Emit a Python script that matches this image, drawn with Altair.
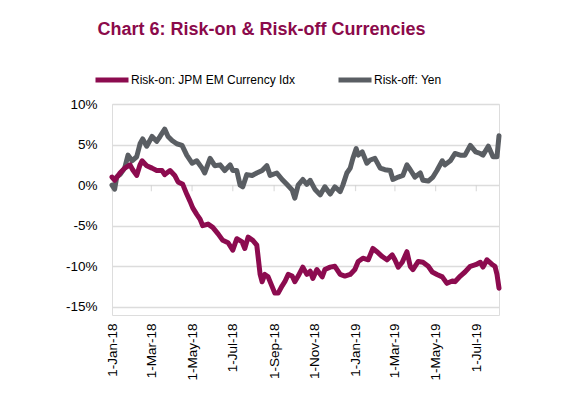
import altair as alt
import pandas as pd

series_names = ["Risk-on: JPM EM Currency Idx", "Risk-off: Yen"]
series_colors = ["#8C0B4F", "#5A5E63"]

em_dates = [
    "2018-01-01", "2018-01-05", "2018-01-13", "2018-01-20", "2018-01-28", "2018-02-01",
    "2018-02-07", "2018-02-12", "2018-02-15", "2018-02-22", "2018-03-02", "2018-03-09",
    "2018-03-17", "2018-03-21", "2018-03-29", "2018-04-05", "2018-04-10", "2018-04-17",
    "2018-04-23", "2018-04-28", "2018-05-02", "2018-05-08", "2018-05-13", "2018-05-17",
    "2018-05-25", "2018-06-01", "2018-06-09", "2018-06-16", "2018-06-24", "2018-07-01",
    "2018-07-07", "2018-07-15", "2018-07-19", "2018-07-24", "2018-07-31", "2018-08-06",
    "2018-08-11", "2018-08-14", "2018-08-18", "2018-08-23", "2018-08-29", "2018-09-02",
    "2018-09-07", "2018-09-13", "2018-09-17", "2018-09-22", "2018-09-28", "2018-10-02",
    "2018-10-07", "2018-10-14", "2018-10-20", "2018-10-25", "2018-10-29", "2018-11-04",
    "2018-11-12", "2018-11-16", "2018-11-24", "2018-12-01", "2018-12-09", "2018-12-16",
    "2018-12-24", "2018-12-31", "2019-01-05", "2019-01-12", "2019-01-20", "2019-01-27",
    "2019-02-02", "2019-02-10", "2019-02-17", "2019-02-25", "2019-03-01", "2019-03-06",
    "2019-03-12", "2019-03-19", "2019-03-24", "2019-03-28", "2019-04-05", "2019-04-12",
    "2019-04-20", "2019-04-26", "2019-05-03", "2019-05-11", "2019-05-18", "2019-05-26",
    "2019-05-30", "2019-06-07", "2019-06-14", "2019-06-22", "2019-06-30", "2019-07-07",
    "2019-07-11", "2019-07-17", "2019-07-25", "2019-07-29", "2019-08-01", "2019-08-04",
]
em_values = [
    1.0, 0.6, 1.5, 2.1, 2.5, 1.9,
    1.2, 2.5, 3.0, 2.4, 2.1, 1.8,
    1.8, 1.3, 1.8, 1.2, 0.4, 0.1,
    -1.1, -2.0, -2.8, -3.6, -4.2, -5.0,
    -4.8, -5.2, -6.0, -6.8, -7.1, -8.0,
    -6.6, -7.0, -7.8, -6.4, -6.8, -7.4,
    -11.0, -11.9, -11.0, -11.3, -12.5, -13.3,
    -13.3, -12.4, -11.9, -11.0, -11.2, -11.9,
    -11.2, -10.1, -11.0, -10.6, -11.5, -10.4,
    -11.3, -10.4, -10.1, -10.0, -11.0, -11.2,
    -11.0, -10.4, -9.4, -9.0, -9.2, -7.8,
    -8.2, -8.8, -9.2, -8.6, -9.2, -10.1,
    -9.5, -8.2, -10.0, -10.4, -9.4, -9.5,
    -10.0, -10.7, -11.0, -11.3, -12.1, -11.8,
    -11.9, -11.2, -10.7, -10.0, -9.8, -9.5,
    -10.1, -9.2, -9.8, -10.0, -11.0, -12.7,
]

yen_dates = [
    "2018-01-01", "2018-01-05", "2018-01-08", "2018-01-13", "2018-01-20", "2018-01-25",
    "2018-01-31", "2018-02-07", "2018-02-12", "2018-02-16", "2018-02-22", "2018-03-02",
    "2018-03-09", "2018-03-14", "2018-03-21", "2018-03-26", "2018-04-01", "2018-04-08",
    "2018-04-16", "2018-04-23", "2018-05-01", "2018-05-08", "2018-05-16", "2018-05-20",
    "2018-05-28", "2018-06-04", "2018-06-12", "2018-06-19", "2018-06-27", "2018-07-01",
    "2018-07-07", "2018-07-12", "2018-07-16", "2018-07-22", "2018-07-30", "2018-08-06",
    "2018-08-14", "2018-08-21", "2018-08-26", "2018-09-05", "2018-09-13", "2018-09-20",
    "2018-09-28", "2018-10-02", "2018-10-07", "2018-10-14", "2018-10-20", "2018-10-25",
    "2018-11-01", "2018-11-09", "2018-11-16", "2018-11-24", "2018-12-01", "2018-12-09",
    "2018-12-13", "2018-12-19", "2018-12-24", "2018-12-28", "2019-01-02", "2019-01-05",
    "2019-01-11", "2019-01-18", "2019-01-23", "2019-01-30", "2019-02-07", "2019-02-14",
    "2019-02-22", "2019-02-26", "2019-03-06", "2019-03-13", "2019-03-19", "2019-03-24",
    "2019-03-31", "2019-04-08", "2019-04-12", "2019-04-20", "2019-04-27", "2019-05-03",
    "2019-05-11", "2019-05-15", "2019-05-23", "2019-05-30", "2019-06-07", "2019-06-14",
    "2019-06-22", "2019-06-30", "2019-07-07", "2019-07-11", "2019-07-19", "2019-07-26",
    "2019-08-01", "2019-08-04",
]
yen_values = [
    0.0, -0.5, 1.0, 1.3, 2.1, 3.7,
    3.0, 3.5, 5.1, 5.7, 4.8, 6.0,
    5.4, 6.0, 6.9, 6.0, 5.5, 5.1,
    4.9, 3.7, 2.7, 3.0, 2.1, 1.5,
    3.3, 2.4, 2.5, 1.8, 2.5, 1.8,
    1.8, 0.0, -0.2, 1.3, 1.2, 1.5,
    1.8, 2.4, 1.2, 1.5, 0.7, 0.1,
    -0.6, -1.6, 0.0, 0.7, 0.1, 0.6,
    -0.5, -1.2, -0.2, -1.1, -0.2, -0.8,
    0.0, 1.5, 2.1, 3.3, 4.5, 3.7,
    4.1, 2.7, 3.1, 3.3, 2.1, 1.9,
    1.8, 0.7, 1.0, 1.2, 2.5, 1.9,
    1.0, 1.5, 0.6, 0.5, 1.0, 1.8,
    3.0, 2.5, 3.0, 3.9, 3.7, 3.7,
    4.9, 4.1, 3.9, 3.7, 4.8, 3.5,
    3.5, 6.1,
]

x_tick_dates = [
    "2018-01-01", "2018-03-01", "2018-05-01", "2018-07-01", "2018-09-01",
    "2018-11-01", "2019-01-01", "2019-03-01", "2019-05-01", "2019-07-01",
]
y_ticks = [-15, -10, -5, 0, 5, 10]

em_df = pd.DataFrame({"date": em_dates, "value": em_values, "series": series_names[0]})
yen_df = pd.DataFrame({"date": yen_dates, "value": yen_values, "series": series_names[1]})
tick_df = pd.DataFrame({"date": x_tick_dates, "value": 0})

FONT = "Liberation Sans"

x_enc = alt.X(
    "date:T",
    scale=alt.Scale(type="utc", domain=["2018-01-01", "2019-08-04"]),
    axis=alt.Axis(
        values=[alt.DateTime(year=int(d[:4]), month=int(d[5:7]), date=int(d[8:]), utc=True) for d in x_tick_dates],
        labelExpr="utcFormat(datum.value, '%-d-%b-%y')",
        labelAngle=270,
        labelAlign="right",
        labelBaseline="middle",
        labelPadding=8,
        labelFontSize=13.5,
        labelFont=FONT,
        labelColor="#000000",
        domain=False,
        ticks=False,
        tickSize=0,
        grid=False,
        title=None,
        labelOverlap=False,
    ),
)
y_enc = alt.Y(
    "value:Q",
    scale=alt.Scale(domain=[-15, 10]),
    axis=alt.Axis(
        values=y_ticks,
        labelExpr="datum.value + '%'",
        labelFontSize=13.5,
        labelFont=FONT,
        labelColor="#000000",
        labelPadding=15,
        domain=False,
        ticks=False,
        tickSize=0,
        grid=True,
        gridColor="#dcdcdc",
        gridWidth=1.6,
        title=None,
    ),
)
color_enc = alt.Color(
    "series:N",
    scale=alt.Scale(domain=series_names, range=series_colors),
    legend=alt.Legend(
        orient="none",
        legendX=-19,
        legendY=-43,
        direction="horizontal",
        title=None,
        symbolType="stroke",
        symbolStrokeWidth=5,
        symbolSize=1089,
        labelFontSize=12,
        labelFont=FONT,
        labelColor="#000000",
        labelOffset=0,
        labelLimit=400,
        columnPadding=32,
        padding=0,
    ),
)

yen_line = alt.Chart(yen_df).mark_line(strokeWidth=5, strokeJoin="round", strokeCap="round").encode(
    x=x_enc, y=y_enc, color=color_enc
)
em_line = alt.Chart(em_df).mark_line(strokeWidth=5, strokeJoin="round", strokeCap="round").encode(
    x=x_enc, y=y_enc, color=color_enc
)
ticks = alt.Chart(tick_df).mark_tick(orient="vertical", size=6, thickness=1.2, color="#cfcfcf", yOffset=3).encode(
    x="date:T", y="value:Q"
)

chart = (
    alt.layer(ticks, yen_line, em_line)
    .properties(
        width=387,
        height=211,
        autosize=alt.AutoSizeParams(type="none"),
        padding={"left": 104, "top": 96, "right": 40, "bottom": 80},
        title=alt.TitleParams(
            "Chart 6: Risk-on & Risk-off Currencies",
            anchor="start",
            dx=32,
            fontSize=18,
            font=FONT,
            fontWeight="bold",
            color="#8B0A4B",
            offset=22,
        ),
    )
    .configure_view(stroke=None)
    .configure(background="#ffffff")
)

chart.save("out.html", embed_options={"renderer": "svg", "actions": False})
